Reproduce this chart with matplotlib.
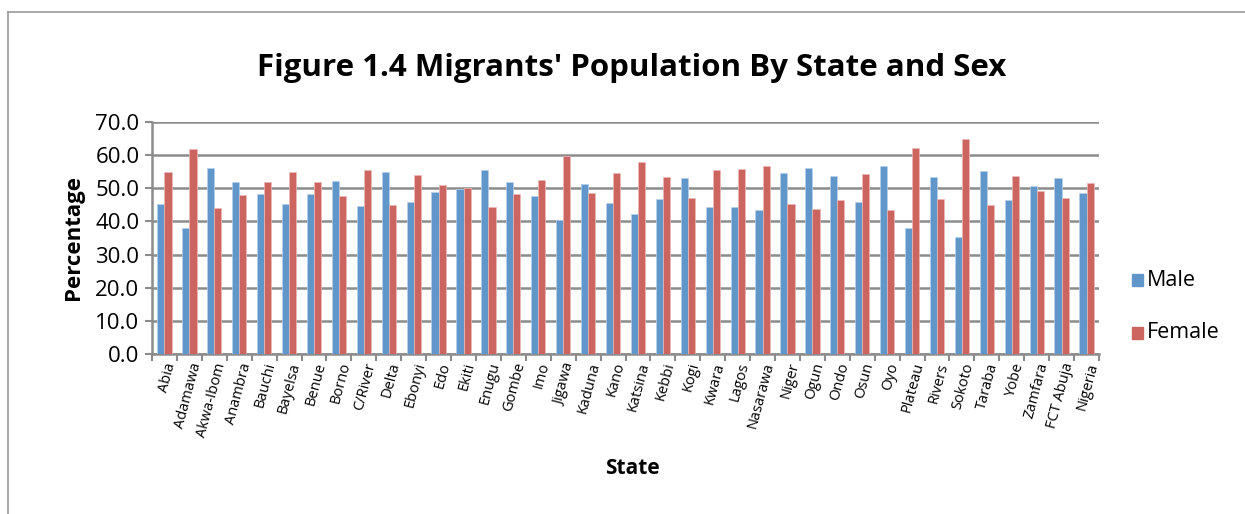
import matplotlib
matplotlib.use("Agg")
import matplotlib.pyplot as plt
import numpy as np
from matplotlib.patches import Rectangle
from matplotlib.lines import Line2D

states = ["Abia", "Adamawa", "Akwa-Ibom", "Anambra", "Bauchi", "Bayelsa", "Benue", "Borno",
          "C/River", "Delta", "Ebonyi", "Edo", "Ekiti", "Enugu", "Gombe", "Imo", "Jigawa",
          "Kaduna", "Kano", "Katsina", "Kebbi", "Kogi", "Kwara", "Lagos", "Nasarawa", "Niger",
          "Ogun", "Ondo", "Osun", "Oyo", "Plateau", "Rivers", "Sokoto", "Taraba", "Yobe",
          "Zamfara", "FCT Abuja", "Nigeria"]
male = [45.2, 38.1, 56.0, 51.9, 48.3, 45.2, 48.3, 52.3, 44.6, 55.0, 46.0, 48.9, 49.9,
        55.6, 51.8, 47.7, 40.5, 51.4, 45.6, 42.2, 46.8, 53.1, 44.5, 44.3, 43.4, 54.6,
        56.2, 53.7, 45.8, 56.8, 38.0, 53.3, 35.3, 55.2, 46.4, 50.8, 53.0, 48.5]
female = [54.8, 61.9, 44.0, 48.1, 51.8, 54.8, 51.8, 47.7, 55.4, 45.0, 54.1, 51.1, 50.2,
          44.5, 48.3, 52.4, 59.6, 48.7, 54.5, 57.9, 53.3, 47.0, 55.6, 55.8, 56.7, 45.4,
          43.9, 46.4, 54.3, 43.4, 62.1, 46.8, 64.8, 44.9, 53.7, 49.3, 47.1, 51.6]
yticks = [0, 10, 20, 30, 40, 50, 60, 70]

W, H = 1245, 514
fig = plt.figure(figsize=(W / 100, H / 100), dpi=100)
fig.patch.set_facecolor("white")

# outer chart frame
fig.add_artist(Line2D([8 / W, 1], [1 - 12 / H, 1 - 12 / H], color="#9a9a9a", lw=1.2))
fig.add_artist(Line2D([8 / W, 8 / W], [0, 1 - 12 / H], color="#9a9a9a", lw=1.2))

ax = fig.add_axes([152 / W, 1 - 354 / H, (1099 - 152) / W, (354 - 122) / H])
blue = "#6096C9"
red = "#CC6560"
x = np.arange(len(states))
bw = 0.286
ax.bar(x - bw / 2, male, width=bw, color=blue, edgecolor="#b9d1ea", linewidth=0.5, zorder=3)
ax.bar(x + bw / 2, female, width=bw, color=red, edgecolor="#ecb9b7", linewidth=0.5, zorder=3)

ax.set_xlim(-0.5, len(states) - 0.5)
ax.set_ylim(0, 70)
ax.set_yticks(yticks)
ax.set_yticklabels([f"{v:.1f}" for v in yticks], fontsize=16, family="Open Sans")
ax.yaxis.grid(True, color="#8c8c8c", lw=1.8, zorder=0)
ax.set_axisbelow(True)
for s in ["top", "right"]:
    ax.spines[s].set_visible(False)
for s in ["left", "bottom"]:
    ax.spines[s].set_color("#8c8c8c")
    ax.spines[s].set_linewidth(1.8)
ax.tick_params(axis="y", length=5, width=1.5, color="#8c8c8c", pad=4)

# category ticks between groups
ax.set_xticks(np.arange(len(states) + 1) - 0.5, minor=True)
ax.set_xticks(x)
ax.tick_params(axis="x", which="minor", length=5, width=1.5, color="#8c8c8c")
ax.tick_params(axis="x", which="major", length=0, pad=5)
ax.set_xticklabels(states, rotation=75, ha="right", rotation_mode="anchor",
                   fontsize=10.5, family="Open Sans")

ax.set_ylabel("Percentage", fontsize=16, fontweight="bold", family="Open Sans", labelpad=8)

fig.text(632 / W, 1 - 468 / H, "State", ha="center", va="center",
         fontsize=15, fontweight="bold", family="Open Sans")
fig.text(632 / W, 1 - 68 / H, "Figure 1.4 Migrants' Population By State and Sex",
         ha="center", va="center", fontsize=22.5, fontweight="bold", family="Open Sans")

# legend
for yy, col, lab in [(280, blue, "Male"), (333, red, "Female")]:
    fig.add_artist(Rectangle((1132 / W, 1 - (yy + 6) / H), 11 / W, 12 / H,
                             color=col, transform=fig.transFigure))
    fig.text(1147 / W, 1 - yy / H, lab, ha="left", va="center", fontsize=15.5, family="Open Sans")

fig.savefig("out.png", dpi=100)
